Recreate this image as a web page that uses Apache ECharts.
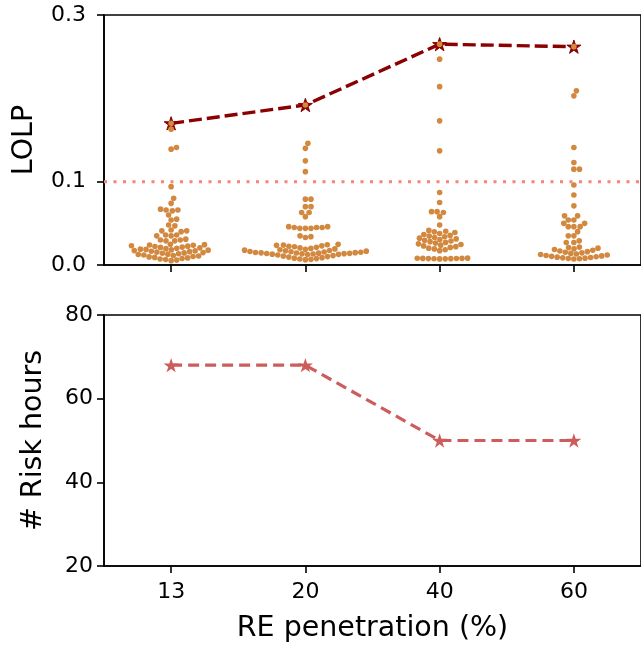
<!DOCTYPE html>
<html>
<head>
<meta charset="utf-8">
<script src="https://cdn.jsdelivr.net/npm/echarts@6/dist/echarts.min.js"></script>
<style>
html,body{margin:0;padding:0;background:#fff;}
#c{width:641px;height:648px;}
</style>
</head>
<body>
<div id="c"></div>
<script>
// ---------- data ----------
const categories = ['13', '20', '40', '60'];
const lolpTicks = [0, 0.1, 0.3];
const riskTicks = [20, 40, 60, 80];
const lolpThreshold = 0.1;
const lolpLine = [0.170, 0.192, 0.265, 0.262];
const riskHours = [68, 68, 50, 50];

const lolp13 = [0.170, 0.163, 0.141, 0.139, 0.094, 0.080, 0.074, 0.067, 0.066, 0.066, 0.065, 0.060, 0.055, 0.054, 0.048, 0.047,
  0.042, 0.041, 0.041, 0.040, 0.036, 0.036, 0.035, 0.035, 0.031, 0.030, 0.030, 0.029, 0.029,
  0.0248, 0.0244, 0.0240, 0.0237, 0.0231, 0.0226, 0.0222, 0.0215, 0.0211, 0.0206,
  0.0200, 0.0196, 0.0190, 0.0187, 0.0182, 0.0178, 0.0173, 0.0170, 0.0165, 0.0160,
  0.0155, 0.0149, 0.0145, 0.0141, 0.0135, 0.0130, 0.0126, 0.0120, 0.0114, 0.0108,
  0.0102, 0.0097, 0.0091, 0.0085, 0.0078, 0.0072, 0.0066, 0.0059, 0.0052];
const lolp20 = [0.192, 0.146, 0.140, 0.125, 0.112, 0.079, 0.079, 0.070, 0.070, 0.063, 0.063, 0.058,
  0.046, 0.046, 0.045, 0.045, 0.045, 0.044, 0.044, 0.044, 0.035, 0.034, 0.033,
  0.0248, 0.0243, 0.0239, 0.0236, 0.0230, 0.0224, 0.0219,
  0.0212, 0.0205, 0.0199, 0.0193, 0.0188, 0.0183, 0.0178, 0.0174,
  0.0170, 0.0166, 0.0162, 0.0159, 0.0156, 0.0153, 0.0150, 0.0148, 0.0146, 0.0144,
  0.0142, 0.0140, 0.0138, 0.0136, 0.0134, 0.0132, 0.0130, 0.0128, 0.0126,
  0.0120, 0.0113, 0.0107, 0.0101, 0.0095, 0.0088, 0.0082,
  0.0077, 0.0072, 0.0068, 0.0064];
const lolp40 = [0.265, 0.247, 0.214, 0.173, 0.137, 0.087, 0.075, 0.064, 0.064, 0.063, 0.058, 0.048,
  0.0415, 0.0405, 0.0398, 0.0390, 0.0378, 0.0366, 0.0355, 0.0347, 0.0339, 0.0330,
  0.0322, 0.0313, 0.0305, 0.0296, 0.0288, 0.0280, 0.0271, 0.0263, 0.0254, 0.0246,
  0.0238, 0.0229, 0.0220, 0.0211, 0.0202, 0.0193, 0.0183, 0.0172,
  0.0082, 0.0081, 0.0080, 0.0079, 0.0078, 0.0077, 0.0076, 0.0075, 0.0074, 0.0073];
const lolp60 = [0.262, 0.209, 0.203, 0.141, 0.123, 0.115, 0.115, 0.096, 0.084, 0.071,
  0.059, 0.059, 0.054, 0.054, 0.050, 0.050, 0.046, 0.046, 0.046,
  0.040, 0.035, 0.035, 0.029, 0.027, 0.027,
  0.0215, 0.0209, 0.0202, 0.0194, 0.0186, 0.0177, 0.0168, 0.0160, 0.0153, 0.0146,
  0.0139, 0.0132, 0.0126, 0.0120, 0.0114, 0.0109, 0.0104, 0.0099, 0.0094, 0.0090,
  0.0086, 0.0082, 0.0078, 0.0075, 0.0072];
const swarms = [lolp13, lolp20, lolp40, lolp60];

// ---------- styles ----------
const FONT = 'DejaVu Sans';
const STAR = 'path://M50,0L61.23,34.55L97.55,34.55L68.16,55.9L79.39,90.45L50,69.1L20.61,90.45L31.84,55.9L2.45,34.55L38.77,34.55Z';
const AX = '#000';
const idx = categories.map((c, i) => i);

function xAxisCfg(gridIndex, showLabels) {
  return {
    type: 'value', gridIndex, min: -0.5, max: 3.5,
    axisLine: { show: true, onZero: false, lineStyle: { color: AX, width: 1.6 } },
    axisTick: { show: true, length: 7, lineStyle: { color: AX, width: 1.6 }, customValues: idx },
    axisLabel: { show: showLabels, customValues: idx, formatter: v => categories[Math.round(v)],
      color: AX, fontSize: 22, fontFamily: FONT, margin: 15 },
    splitLine: { show: false },
    name: showLabels ? 'RE penetration (%)' : '',
    nameLocation: 'middle', nameGap: 48,
    nameTextStyle: { color: AX, fontSize: 28.5, fontFamily: FONT }
  };
}

const option = {
  animation: false,
  backgroundColor: '#fff',
  grid: [
    { left: 104, top: 15, width: 546, height: 250, show: true, borderColor: AX, borderWidth: 1.6, backgroundColor: 'transparent' },
    { left: 104, top: 315, width: 546, height: 251, show: true, borderColor: AX, borderWidth: 1.6, backgroundColor: 'transparent' }
  ],
  xAxis: [xAxisCfg(0, false), xAxisCfg(1, true)],
  yAxis: [
    {
      type: 'value', gridIndex: 0, min: 0, max: 0.3,
      axisLine: { show: true, onZero: false, lineStyle: { color: AX, width: 1.6 } },
      axisTick: { show: true, length: 7, lineStyle: { color: AX, width: 1.6 }, customValues: lolpTicks },
      axisLabel: { customValues: lolpTicks, formatter: v => v.toFixed(1), color: AX, fontSize: 22, fontFamily: FONT, margin: 18 },
      splitLine: { show: false },
      name: 'LOLP', nameLocation: 'middle', nameGap: 65,
      nameTextStyle: { color: AX, fontSize: 28.5, fontFamily: FONT }
    },
    {
      type: 'value', gridIndex: 1, min: 20, max: 80, interval: 20,
      axisLine: { show: true, onZero: false, lineStyle: { color: AX, width: 1.6 } },
      axisTick: { show: true, length: 7, lineStyle: { color: AX, width: 1.6 }, customValues: riskTicks },
      axisLabel: { customValues: riskTicks, color: AX, fontSize: 22, fontFamily: FONT, margin: 11 },
      splitLine: { show: false },
      name: '# Risk hours', nameLocation: 'middle', nameGap: 56,
      nameTextStyle: { color: AX, fontSize: 28.5, fontFamily: FONT }
    }
  ],
  series: []
};

function baseSeries() {
  return [
    {
      type: 'line', xAxisIndex: 0, yAxisIndex: 0, z: 1,
      data: [[-0.5, lolpThreshold], [3.5, lolpThreshold]],
      symbol: 'none', silent: true,
      lineStyle: { color: '#F88379', width: 3, type: [3, 6.5], cap: 'butt' }
    },
    {
      type: 'line', xAxisIndex: 0, yAxisIndex: 0, z: 2,
      data: idx.map(i => [i, lolpLine[i]]),
      symbol: STAR, symbolSize: 14, symbolKeepAspect: true,
      itemStyle: { color: '#8B0000', borderColor: '#8B0000', borderWidth: 1 },
      lineStyle: { color: '#8B0000', width: 3.4, type: [13, 5] }
    },
    {
      type: 'line', xAxisIndex: 1, yAxisIndex: 1, z: 2,
      data: idx.map(i => [i, riskHours[i]]),
      symbol: STAR, symbolSize: 15, symbolKeepAspect: true,
      itemStyle: { color: '#CD5C5C' },
      lineStyle: { color: '#CD5C5C', width: 3.2, type: [11, 6] }
    }
  ];
}

option.series = baseSeries();
const chart = echarts.init(document.getElementById('c'), null, { renderer: 'canvas' });
chart.setOption(option);

// beeswarm layout in pixel space (seaborn-like)
function beeswarm(ys, d) {
  const order = ys.map((v, i) => i).sort((a, b) => ys[a] - ys[b]);
  const placed = [];
  const out = new Array(ys.length);
  for (const k of order) {
    const y = ys[k];
    const nb = placed.filter(p => Math.abs(p.y - y) < d);
    const cands = [0];
    nb.forEach(p => {
      const dy = y - p.y;
      const dx = Math.sqrt(Math.max(d * d - dy * dy, 0));
      cands.push(p.x + dx, p.x - dx);
    });
    cands.sort((a, b) => Math.abs(a) - Math.abs(b));
    let chosen = cands[cands.length - 1];
    for (const c of cands) {
      if (nb.every(p => (c - p.x) * (c - p.x) + (y - p.y) * (y - p.y) >= d * d - 1e-6)) { chosen = c; break; }
    }
    placed.push({ x: chosen, y });
    out[k] = chosen;
  }
  return out;
}

const p0 = chart.convertToPixel({ gridIndex: 0 }, [0, 0]);
const p1 = chart.convertToPixel({ gridIndex: 0 }, [1, 0.3]);
const pxPerX = p1[0] - p0[0];
const pxPerY = (p0[1] - p1[1]) / 0.3;
const DOT = 5.6;
const swarmData = [];
swarms.forEach((vals, i) => {
  const ys = vals.map(v => v * pxPerY);
  const offs = beeswarm(ys, DOT);
  vals.forEach((v, j) => swarmData.push([i + offs[j] / pxPerX, v]));
});

const series = baseSeries();
series.push({
  type: 'scatter', xAxisIndex: 0, yAxisIndex: 0, z: 3,
  data: swarmData, symbol: 'circle', symbolSize: 5.6,
  itemStyle: { color: '#D2893F', opacity: 1 }
});
chart.setOption({ series });
</script>
</body>
</html>
